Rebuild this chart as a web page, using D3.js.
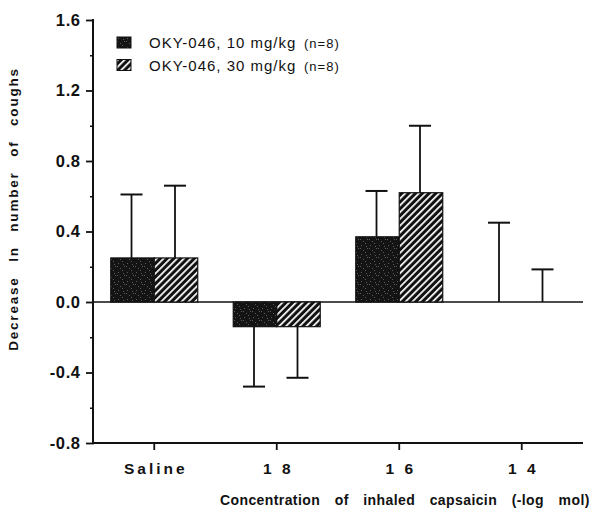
<!DOCTYPE html>
<html>
<head>
<meta charset="utf-8">
<script src="https://cdn.jsdelivr.net/npm/d3@7"></script>
<style>
  html, body { margin: 0; padding: 0; background: #fff; }
  svg { display: block; }
  text { font-family: "Liberation Sans", Arial, Helvetica, sans-serif; fill: #111; }
</style>
</head>
<body>
<svg id="chart" width="593" height="513"></svg>
<script>
// ---- data ----
const categories = ["Saline", "1 8", "1 6", "1 4"];
const seriesNames = ["OKY-046, 10 mg/kg", "OKY-046, 30 mg/kg"];
const seriesN = ["(n=8)", "(n=8)"];
const dose10 = [0.25, -0.14, 0.37, 0.0];
const dose30 = [0.25, -0.14, 0.62, 0.0];
const err10 = [0.36, 0.34, 0.26, 0.45];
const err30 = [0.41, 0.29, 0.38, 0.185];
const yMajorTicks = [-0.8, -0.4, 0.0, 0.4, 0.8, 1.2, 1.6];
const yMinorTicks = [-0.6, -0.2, 0.2, 0.6, 1.0, 1.4];
const yTickLabels = ["-0.8", "-0.4", "0.0", "0.4", "0.8", "1.2", "1.6"];
const yTitle = "Decrease In number of coughs";
const xTitle = "Concentration of inhaled capsaicin (-log mol)";

const svg = d3.select("#chart");
const defs = svg.append("defs");

// stippled dark fill
const stip = defs.append("pattern").attr("id", "stipple").attr("patternUnits", "userSpaceOnUse")
  .attr("width", 9).attr("height", 9);
stip.append("rect").attr("width", 9).attr("height", 9).attr("fill", "#141414");
[[1,2],[5,0],[7,5],[3,7],[0,5],[6,3]].forEach(([a,b]) =>
  stip.append("rect").attr("x", a).attr("y", b).attr("width", 1).attr("height", 1).attr("fill", "#5a5a5a"));

// hatched fill
const hatch = defs.append("pattern").attr("id", "hatch").attr("patternUnits", "userSpaceOnUse")
  .attr("width", 4.8).attr("height", 10).attr("patternTransform", "rotate(45)");
hatch.append("rect").attr("width", 4.8).attr("height", 10).attr("fill", "#111");
hatch.append("rect").attr("x", 0).attr("y", 0).attr("width", 1.7).attr("height", 10).attr("fill", "#fff");

const fills = ["url(#stipple)", "url(#hatch)"];

// ---- scales ----
const axisX = 93, xEnd = 583;
const y = d3.scaleLinear().domain([-0.8, 1.6]).range([443, 20]);
const x0 = d3.scaleBand().domain(categories).range([axisX, xEnd]).paddingInner(0.29).paddingOuter(0.145);
const x1 = d3.scaleBand().domain(seriesNames).range([0, x0.bandwidth()]);

const values = [dose10, dose30];
const errs = [err10, err30];

// ---- zero line ----
svg.append("line").attr("x1", axisX).attr("x2", xEnd).attr("y1", y(0)).attr("y2", y(0))
  .attr("stroke", "#111").attr("stroke-width", 1.6);

// ---- bars ----
seriesNames.forEach((s, si) => {
  const g = svg.append("g");
  categories.forEach((c, ci) => {
    const v = values[si][ci];
    if (v === 0) return;
    g.append("rect")
      .attr("x", x0(c) + x1(s))
      .attr("y", y(Math.max(0, v)))
      .attr("width", x1.bandwidth())
      .attr("height", Math.abs(y(v) - y(0)))
      .attr("fill", fills[si])
      .attr("stroke", "#111").attr("stroke-width", 1.2);
  });
});

// ---- error bars ----
seriesNames.forEach((s, si) => {
  categories.forEach((c, ci) => {
    const v = values[si][ci];
    const e = errs[si][ci];
    const end = v >= 0 ? v + e : v - e;
    const cx = x0(c) + x1(s) + x1.bandwidth() / 2 - 1;
    svg.append("line").attr("x1", cx).attr("x2", cx).attr("y1", y(v)).attr("y2", y(end))
      .attr("stroke", "#111").attr("stroke-width", 1.8);
    svg.append("line").attr("x1", cx - 11).attr("x2", cx + 11).attr("y1", y(end)).attr("y2", y(end))
      .attr("stroke", "#111").attr("stroke-width", 2);
  });
});

// ---- axes ----
const yAxis = d3.axisLeft(y).tickValues(yMajorTicks).tickSize(7)
  .tickFormat((d, i) => yTickLabels[i]).tickPadding(6);
const gy = svg.append("g").attr("transform", `translate(${axisX},0)`).call(yAxis);
gy.select(".domain").remove();
gy.selectAll(".tick line").attr("stroke", "#111").attr("stroke-width", 1.8).attr("x2", -7).attr("x1", 1);
gy.selectAll(".tick text").attr("font-size", 16.5).attr("font-weight", "bold")
  .attr("letter-spacing", "0.6px").attr("font-family", "Liberation Sans, Arial, sans-serif").attr("fill", "#111")
  .attr("dx", "0.6px");

const yMinor = d3.axisLeft(y).tickValues(yMinorTicks).tickSize(3).tickFormat("");
const gym = svg.append("g").attr("transform", `translate(${axisX},0)`).call(yMinor);
gym.select(".domain").remove();
gym.selectAll(".tick line").attr("stroke", "#111").attr("stroke-width", 1.5);

svg.append("line").attr("x1", axisX).attr("x2", axisX).attr("y1", y(1.6) - 1).attr("y2", y(-0.8) + 1)
  .attr("stroke", "#111").attr("stroke-width", 2);

const xAxis = d3.axisBottom(x0).tickSize(7).tickPadding(13);
const gx = svg.append("g").attr("transform", `translate(0,${y(-0.8)})`).call(xAxis);
gx.select(".domain").remove();
gx.selectAll(".tick line").attr("stroke", "#111").attr("stroke-width", 1.8);
gx.selectAll(".tick text").attr("font-size", 15.5).attr("font-weight", "bold")
  .attr("letter-spacing", "3px").attr("dx", "1.5px").attr("font-family", "Liberation Sans, Arial, sans-serif").attr("fill", "#111");

svg.append("line").attr("x1", axisX - 1).attr("x2", xEnd).attr("y1", y(-0.8)).attr("y2", y(-0.8))
  .attr("stroke", "#111").attr("stroke-width", 2);

// ---- titles ----
svg.append("text").attr("transform", "translate(18,209) rotate(-90)")
  .attr("text-anchor", "middle").attr("font-size", 13.5).attr("font-weight", "bold")
  .attr("letter-spacing", "1.8px").attr("word-spacing", "9px").text(yTitle);

svg.append("text").attr("x", 220).attr("y", 505)
  .attr("font-size", 14).attr("font-weight", "bold")
  .attr("letter-spacing", "0.4px").attr("word-spacing", "10.3px")
  .text(xTitle);

// ---- legend ----
const legend = svg.append("g");
seriesNames.forEach((s, i) => {
  const ly = 37 + i * 22.5;
  legend.append("rect").attr("x", 117).attr("y", ly).attr("width", 14).attr("height", 11)
    .attr("fill", fills[i]).attr("stroke", "#111").attr("stroke-width", 1);
  legend.append("text").attr("x", 149).attr("y", ly + 11).attr("font-size", 15)
    .attr("letter-spacing", "1px").text(s);
  legend.append("text").attr("x", 304).attr("y", ly + 11).attr("font-size", 13)
    .attr("letter-spacing", "1px").text(seriesN[i]);
});
</script>
</body>
</html>
